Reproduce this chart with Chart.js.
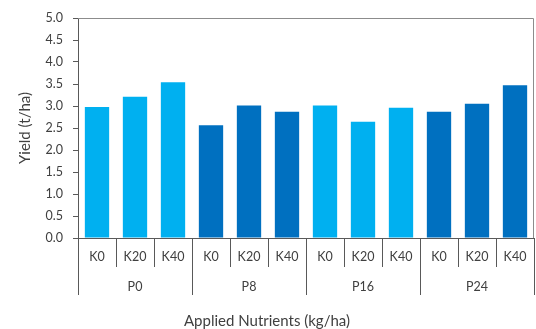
<!DOCTYPE html>
<html>
<head>
<meta charset="utf-8">
<script src="https://cdn.jsdelivr.net/npm/chart.js@4/dist/chart.umd.min.js"></script>
<style>
  html, body { margin: 0; padding: 0; background: #fff; }
  #wrap { width: 536px; height: 329px; }
</style>
</head>
<body>
<div id="wrap"><canvas id="yieldChart" width="536" height="329"></canvas></div>
<script>
// Data
const groupLabels = ["P0", "P8", "P16", "P24"];
const kLabels = ["K0", "K20", "K40"];
const yieldValues = [2.98, 3.21, 3.54, 2.56, 3.01, 2.87, 3.01, 2.64, 2.96, 2.87, 3.05, 3.47];
const yTicks = [0, 0.5, 1, 1.5, 2, 2.5, 3, 3.5, 4, 4.5, 5];

const lightBlue = "#00B0F0";
const darkBlue = "#0070C0";
const axisColor = "#595959";
const textColor = "#404040";
const fontFamily = "Lato, 'Open Sans', sans-serif";

// one category per K level inside each P group
const categoryLabels = [];
groupLabels.forEach(() => kLabels.forEach(k => categoryLabels.push(k)));
const barColors = categoryLabels.map((_, i) => Math.floor(i / kLabels.length) % 2 === 0 ? lightBlue : darkBlue);

// top and right frame of the plot
const frame = {
    id: "frame",
    afterDraw(chart) {
        const { ctx, chartArea } = chart;
        ctx.save();
        ctx.strokeStyle = "#8c8c8c";
        ctx.lineWidth = 1;
        ctx.beginPath();
        ctx.moveTo(chartArea.left, chartArea.top + 0.5);
        ctx.lineTo(chartArea.right - 0.5, chartArea.top + 0.5);
        ctx.lineTo(chartArea.right - 0.5, chartArea.bottom);
        ctx.stroke();
        ctx.restore();
    }
};

const ctx = document.getElementById("yieldChart").getContext("2d");

// fixed axis heights so labels sit between the long tick lines
new Chart(ctx, {
    type: "bar",
    data: {
        labels: categoryLabels,
        datasets: [{
            data: yieldValues,
            backgroundColor: barColors,
            categoryPercentage: 1,
            barPercentage: 0.64
        }]
    },
    options: {
        responsive: false,
        animation: false,
        events: [],
        layout: { padding: { top: 18, right: 2, left: 0, bottom: 0 } },
        plugins: {
            legend: { display: false },
            tooltip: { enabled: false },
            // x title is centred on the whole figure, not the plot
            title: {
                display: true,
                position: "bottom",
                text: "Applied Nutrients (kg/ha)",
                color: textColor,
                font: { size: 15, weight: "normal", family: fontFamily },
                padding: { top: 4, bottom: -1 }
            }
        },
        scales: {
            x: {
                weight: 0,
                afterFit(scale) { scale.height = 29; },
                grid: {
                    display: true,
                    drawOnChartArea: false,
                    offset: true,
                    tickLength: 29,
                    color: axisColor
                },
                border: { color: axisColor },
                ticks: {
                    padding: -17.8,
                    color: textColor,
                    font: { size: 12.5, family: fontFamily },
                    maxRotation: 0,
                    autoSkip: false
                }
            },
            x2: {
                type: "category",
                position: "bottom",
                weight: 1,
                labels: groupLabels,
                offset: true,
                afterFit(scale) { scale.height = 41; },
                grid: {
                    display: true,
                    drawOnChartArea: false,
                    offset: true,
                    tickLength: 28,
                    color: axisColor
                },
                border: { display: false },
                ticks: {
                    padding: -15.8,
                    color: textColor,
                    font: { size: 12.5, family: fontFamily },
                    maxRotation: 0
                }
            },
            y: {
                min: 0,
                max: 5,
                afterFit(scale) { scale.width = 78; },
                afterBuildTicks(scale) { scale.ticks = yTicks.map(v => ({ value: v })); },
                grid: {
                    display: true,
                    drawOnChartArea: false,
                    tickLength: 5,
                    color: axisColor
                },
                border: { color: axisColor },
                ticks: {
                    padding: 10,
                    color: textColor,
                    font: { size: 12.5, family: fontFamily },
                    callback: value => value.toFixed(1)
                },
                title: {
                    display: true,
                    text: "Yield (t/ha)",
                    color: textColor,
                    font: { size: 15, family: fontFamily },
                    padding: { top: 16, bottom: 0 }
                }
            }
        }
    },
    plugins: [frame]
});
</script>
</body>
</html>
